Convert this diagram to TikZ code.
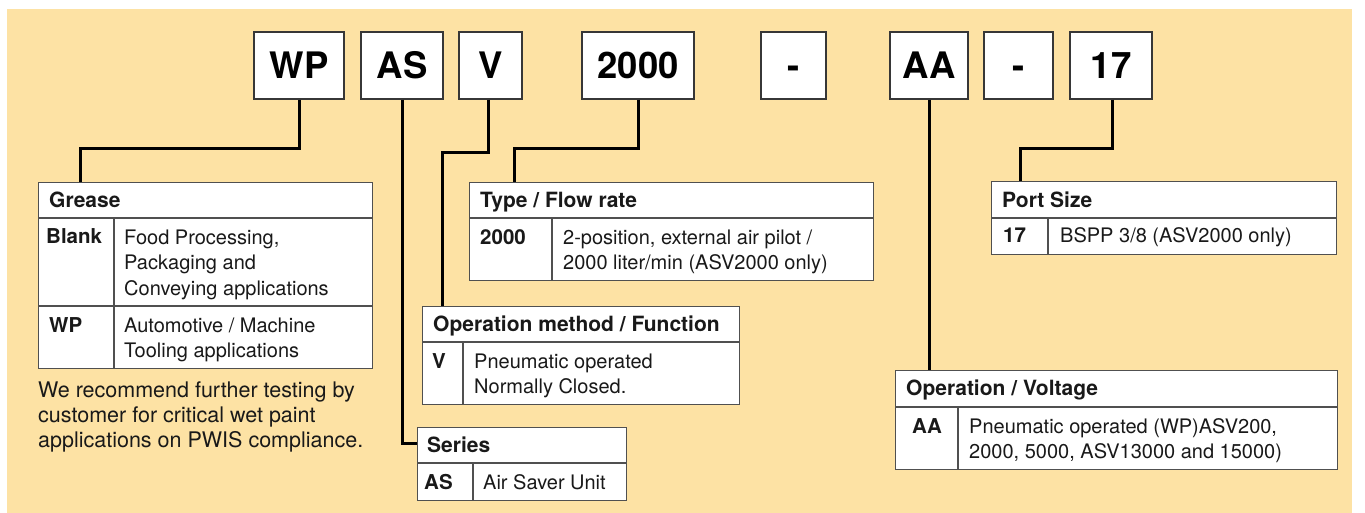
\documentclass[tikz,border=0pt]{standalone}
\usepackage{fontspec}
\setmainfont{TeX Gyre Heros}
\definecolor{bg}{RGB}{253,226,164}
\definecolor{edge}{RGB}{55,55,55}
\definecolor{tline}{RGB}{80,80,80}
\definecolor{txt}{RGB}{25,25,25}
\begin{document}
\begin{tikzpicture}[x=1pt,y=-1pt,
  codebox/.style={draw=edge,line width=1.3pt,fill=white,inner sep=0pt,
    minimum height=67pt,text height=26.2pt,text depth=0pt,
    font=\fontsize{36.5}{40}\selectfont\bfseries},
  tbl/.style={draw=tline,line width=1.2pt,fill=white,anchor=north west,inner sep=0pt},
  tl/.style={draw=tline,line width=1.2pt},
  conn/.style={draw=black,line width=3pt,line join=miter},
  hd/.style={anchor=base west,inner sep=0pt,text=txt,font=\fontsize{21}{25}\selectfont\bfseries},
  lab/.style={anchor=base west,inner sep=0pt,text=txt,font=\fontsize{20.5}{25}\selectfont\bfseries},
  body/.style={anchor=base west,inner sep=0pt,text=txt,font=\fontsize{20}{25}\selectfont},
  note/.style={anchor=base west,inner sep=0pt,text=txt,font=\fontsize{21.5}{25}\selectfont}]
\useasboundingbox (0,0) rectangle (1365,513);
\fill[bg] (7,9) rectangle (1352,513);

% code boxes
\node[codebox,minimum width=90pt] (wp) at (299,65.5) {WP};
\node[codebox,minimum width=82pt] (as) at (402,65.5) {AS};
\node[codebox,minimum width=63pt] (v) at (490.5,65.5) {V};
\node[codebox,minimum width=112pt] (c2000) at (638,65.5) {2000};
\node[codebox,minimum width=65pt] (d1) at (793.5,65.5) {-};
\node[codebox,minimum width=78pt] (aa) at (929,65.5) {AA};
\node[codebox,minimum width=69pt] (d2) at (1018.5,65.5) {-};
\node[codebox,minimum width=82pt] (p17) at (1111,65.5) {17};

% tables
\node[tbl,minimum width=334pt,minimum height=186pt] (grease) at (38,182) {};
\draw[tl] (38,218) -- (372,218);
\draw[tl] (114,218) -- (114,368);
\draw[tl] (38,306) -- (372,306);

\node[tbl,minimum width=404pt,minimum height=98pt] (type) at (469,182) {};
\draw[tl] (469,218) -- (873,218);
\draw[tl] (552,218) -- (552,280);

\node[tbl,minimum width=317pt,minimum height=98pt] (opm) at (422,306) {};
\draw[tl] (422,342) -- (739,342);
\draw[tl] (463,342) -- (463,404);

\node[tbl,minimum width=209pt,minimum height=73pt] (series) at (417,427) {};
\draw[tl] (417,463) -- (626,463);
\draw[tl] (473,463) -- (473,500);

\node[tbl,minimum width=442pt,minimum height=99pt] (opv) at (895,370) {};
\draw[tl] (895,407) -- (1337,407);
\draw[tl] (958,407) -- (958,469);

\node[tbl,minimum width=345pt,minimum height=73pt] (port) at (991,181) {};
\draw[tl] (991,218) -- (1336,218);
\draw[tl] (1048,218) -- (1048,254);

% connectors
\draw[conn] (wp.south) -- ++(0,49) -| ([xshift=42pt]grease.north west);
\draw[conn] (as.south) |- ([yshift=-16pt]series.north west);
\draw[conn] ([xshift=-2pt]v.south) -- ++(0,53) -| ([xshift=20pt]opm.north west);
\draw[conn] (c2000.south) -- ++(0,49) -| ([xshift=45pt]type.north west);
\draw[conn] (aa.south) -- (aa.south |- opv.north);
\draw[conn] ([xshift=1pt]p17.south) -- ++(0,49) -| ([xshift=29pt]port.north west);

% Grease
\node[hd] (hg) at (49,207.5) {Grease};
\node[lab] (lg1) at (46,243.5) {Blank};
\node[body] (bg1) at (124,244) {Food Processing,};
\node[body] (bg2) at (124,269.5) {Packaging and};
\node[body] (bg3) at (124,295) {Conveying applications};
\node[lab] (lg2) at (49,332) {WP};
\node[body] (bg4) at (124,332) {Automotive / Machine};
\node[body] (bg5) at (124,357.5) {Tooling applications};
\node[note] (n1) at (38,397) {We recommend further testing by};
\node[note] (n2) at (38,422) {customer for critical wet paint};
\node[note] (n3) at (38,447) {applications on PWIS compliance.};

% Type / Flow rate
\node[hd] (ht) at (480,207.5) {Type / Flow rate};
\node[lab] (lt) at (480,244) {2000};
\node[body] (bt1) at (563,244) {2-position, external air pilot /};
\node[body] (bt2) at (563,269.5) {2000 liter/min (ASV2000 only)};

% Operation method
\node[hd] (ho) at (433,331.5) {Operation method / Function};
\node[lab] (lo) at (432,368) {V};
\node[body] (bo1) at (474,368) {Pneumatic operated};
\node[body] (bo2) at (474,393.5) {Normally Closed.};

% Series
\node[hd] (hs) at (427,452.5) {Series};
\node[lab] (ls) at (424,489) {AS};
\node[body] (bs) at (483,489) {Air Saver Unit};

% Operation / Voltage
\node[hd] (hv) at (906,395.5) {Operation / Voltage};
\node[lab] (lv) at (912,433) {AA};
\node[body] (bv1) at (969,433) {Pneumatic operated (WP)ASV200,};
\node[body] (bv2) at (969,458.5) {2000, 5000, ASV13000 and 15000)};

% Port size
\node[hd] (hp) at (1002,207.5) {Port Size};
\node[lab] (lp) at (1003,243) {17};
\node[body] (bp) at (1060,243) {BSPP 3/8 (ASV2000 only)};
\end{tikzpicture}
\end{document}
